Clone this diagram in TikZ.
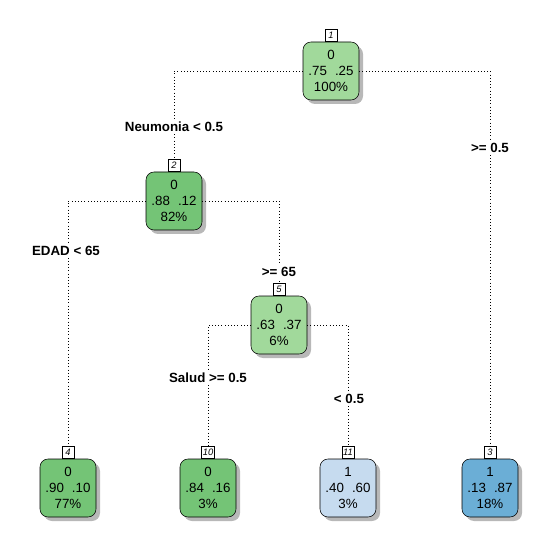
\documentclass[tikz,border=0pt]{standalone}
\usepackage{fontspec}
\setmainfont{Liberation Sans}
\usetikzlibrary{shadows}
\definecolor{grnlight}{HTML}{A1D99B}
\definecolor{grndark}{HTML}{74C476}
\definecolor{blulight}{HTML}{C6DBEF}
\definecolor{bludark}{HTML}{6BAED6}
\tikzset{
	leaf/.style={draw,rounded corners=6pt,minimum width=42pt,minimum height=43.5pt,
		align=center,font=\fontsize{10}{12}\selectfont,inner sep=1pt,
		drop shadow={shadow xshift=3pt,shadow yshift=-3pt,fill=black!35,opacity=0.8}},
	numbox/.style={draw,fill=white,inner sep=1pt,minimum width=9pt,minimum height=9pt,
		font=\fontsize{7}{8}\selectfont\itshape,anchor=south},
	split/.style={fill=white,inner sep=1.5pt,font=\fontsize{10}{12}\selectfont\bfseries},
	conn/.style={dotted,thin}
}
\begin{document}
\begin{tikzpicture}[x=0.75pt,y=-0.75pt]
	\useasboundingbox (0,0) rectangle (553,552);
	% tree nodes
	\node[leaf,fill=grnlight] (N1) at (331,71) {0\\.75\hspace{6pt}.25\\100\%};
	\node[leaf,fill=grndark] (N2) at (174,201) {0\\.88\hspace{6pt}.12\\82\%};
	\node[leaf,fill=grnlight] (N5) at (279,325) {0\\.63\hspace{6pt}.37\\6\%};
	\node[leaf,fill=grndark] (N4) at (68,488) {0\\.90\hspace{6pt}.10\\77\%};
	\node[leaf,fill=grndark] (N10) at (208,488) {0\\.84\hspace{6pt}.16\\3\%};
	\node[leaf,fill=blulight] (N11) at (348,488) {1\\.40\hspace{6pt}.60\\3\%};
	\node[leaf,fill=bludark] (N3) at (490,488) {1\\.13\hspace{6pt}.87\\18\%};
	% node numbers
	\node[numbox] (B1) at (N1.north) {1};
	\node[numbox] (B2) at (N2.north) {2};
	\node[numbox] (B5) at (N5.north) {5};
	\node[numbox] (B4) at (N4.north) {4};
	\node[numbox] (B10) at (N10.north) {10};
	\node[numbox] (B11) at (N11.north) {11};
	\node[numbox] (B3) at (N3.north) {3};
	% connectors
	\draw[conn] (N1.west) -| (B2.north);
	\draw[conn] (N1.east) -| (B3.north);
	\draw[conn] (N2.west) -| (B4.north);
	\draw[conn] (N2.east) -| (B5.north);
	\draw[conn] (N5.west) -| (B10.north);
	\draw[conn] (N5.east) -| (B11.north);
	% split labels
	\node[split] (S1) at (174,127) {Neumonia < 0.5};
	\node[split] (S2) at (490,148) {>= 0.5};
	\node[split] (S3) at (66,251) {EDAD < 65};
	\node[split] (S4) at (279,272) {>= 65};
	\node[split] (S5) at (208,378) {Salud >= 0.5};
	\node[split] (S6) at (349,399) {< 0.5};
\end{tikzpicture}
\end{document}
